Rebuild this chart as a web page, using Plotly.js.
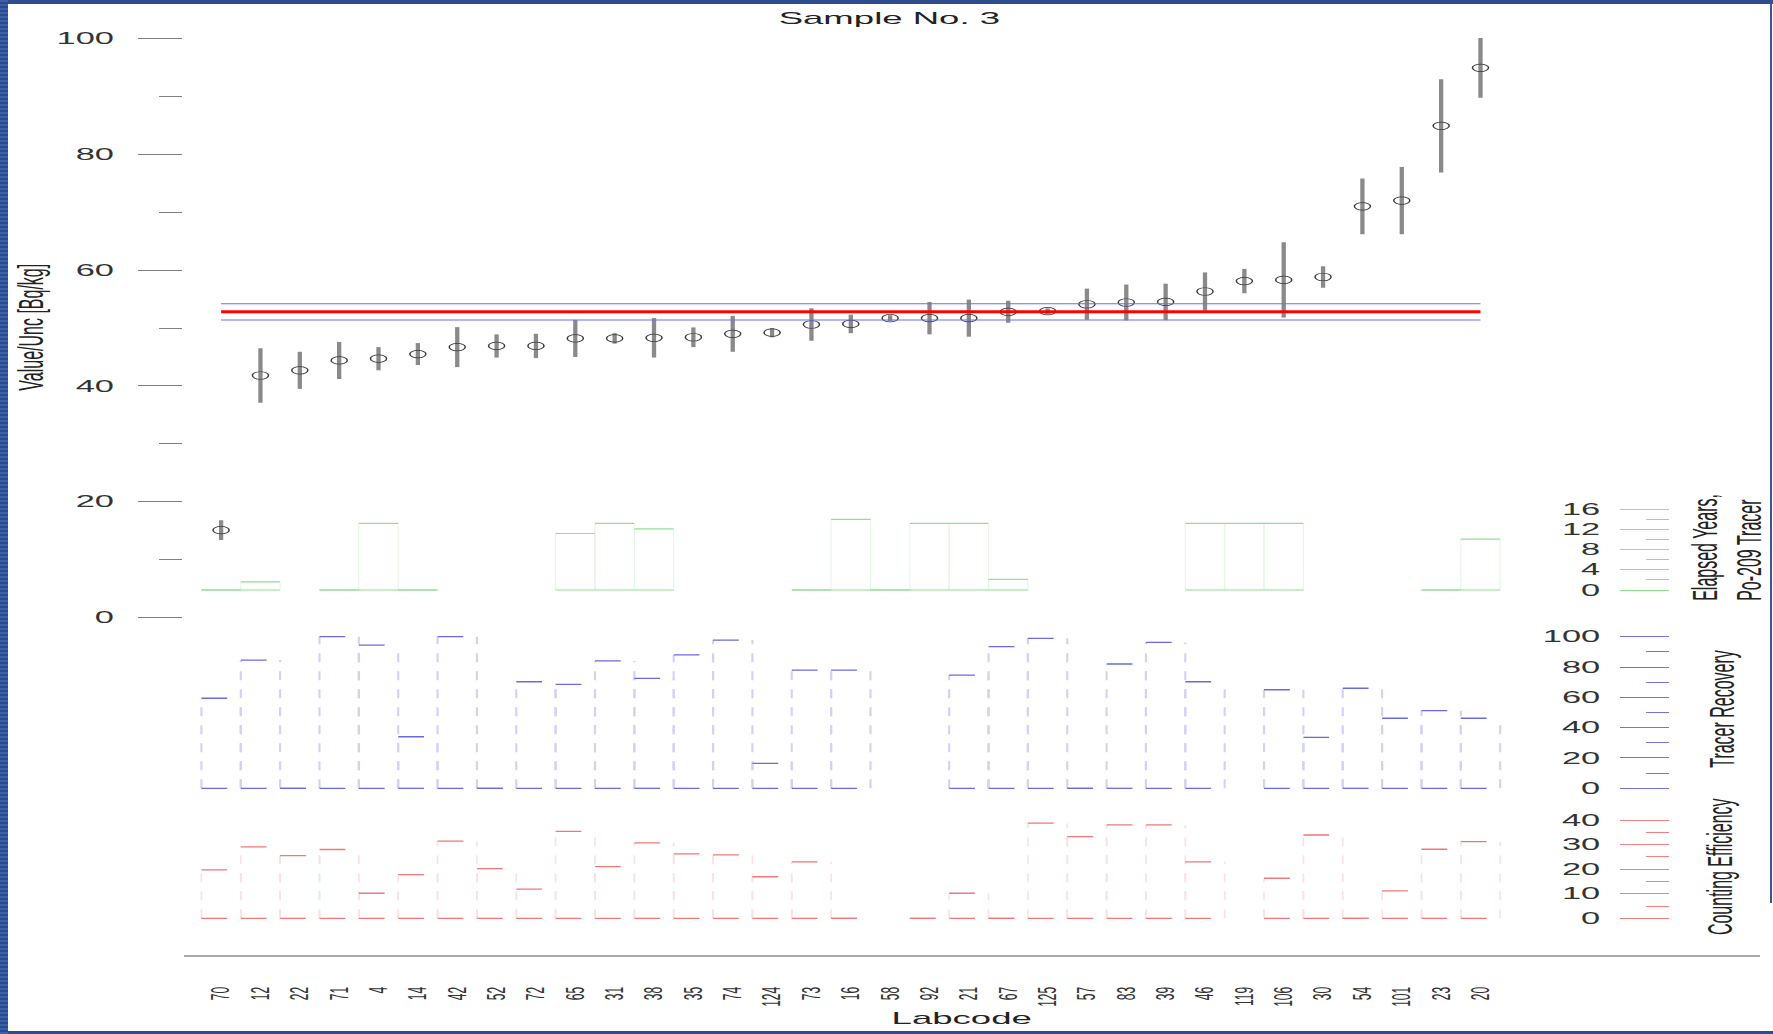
<!DOCTYPE html>
<html>
<head>
<meta charset="utf-8">
<script src="https://cdn.plot.ly/plotly-3.0.1.min.js"></script>
<style>
  html, body { margin: 0; padding: 0; width: 1773px; height: 1034px; overflow: hidden; background: #2f4d8e; }
  #rail { position: absolute; left: 0; top: 0; width: 8px; height: 1034px;
          background: repeating-linear-gradient(to bottom, #3d60a8 0 2px, #2b4a8c 2px 4px); }
  #sheet { position: absolute; left: 8px; top: 4px; width: 1765px; height: 1027px; background: #fff; }
  #edge { position: absolute; left: 1770px; top: 0; width: 2px; height: 903px; background: #3a5590; }
  #chart { position: absolute; left: 8px; top: 4px; width: 821px; height: 1027px;
           transform: scaleX(2.1498); transform-origin: 0 0; }
</style>
</head>
<body>
<div id="rail"></div>
<div id="sheet"></div>
<div id="edge"></div>
<div id="chart"></div>
<script>
// Laboratory results for sample no. 3, sorted by reported value
const labcodes = ['70','12','22','71','4','14','42','52','72','65','31','38','35','74','124','73','16',
                  '58','92','21','67','125','57','83','39','46','119','106','30','54','101','23','20'];
const values = [15.1, 41.8, 42.7, 44.4, 44.7, 45.5, 46.7, 46.9, 46.9, 48.2, 48.2, 48.3, 48.4, 49.0, 49.2, 50.6, 50.7,
                51.7, 51.7, 51.7, 52.8, 52.9, 54.1, 54.4, 54.5, 56.3, 58.1, 58.3, 58.8, 71.0, 72.0, 84.9, 94.9];
const uncertainties = [1.7, 4.7, 3.2, 3.2, 2.0, 1.9, 3.45, 2.0, 2.1, 3.2, 0.9, 3.4, 1.7, 3.1, 0.8, 2.8, 1.6,
                       0.5, 2.8, 3.2, 1.9, 0.5, 2.7, 3.1, 3.15, 3.3, 2.1, 6.5, 1.85, 4.8, 5.8, 8.05, 5.15];
// Reference value and its uncertainty
const refValue = 52.8;
const refUnc = 1.4;

// Auxiliary information per lab (null = not reported)
const elapsedYears = [0, 1.6, null, 0, 13.2, 0, null, null, null, 11.2, 13.2, 12.1, null, null, null, 0, 14.0,
                      0, 13.2, 13.2, 2.1, null, null, null, null, 13.2, 13.2, 13.2, null, null, null, 0, 10.1];
const tracerRecovery = [59.4, 84.6, 0, 100, 94.5, 34, 100, 0, 70.3, 68.6, 84, 72.5, 88, 97.8, 16.5, 78, 78,
                        null, null, 74.7, 93.4, 98.9, 0, 82, 96.3, 70.3, null, 65, 33.6, 66, 46.2, 51.2, 46.2];
const countingEfficiency = [19.7, 29.1, 25.5, 28.0, 10.2, 17.8, 31.4, 20.2, 11.9, 35.4, 21.0, 30.7, 26.2, 25.8, 16.9, 23.0, 0,
                            null, 0, 10.2, 0, 38.7, 33.2, 38, 38, 23, null, 16.3, 33.9, 0, 11.2, 28.1, 31.2];

// ---- geometry -------------------------------------------------------------
const W = 821, H = 1027;
const STRETCH = 1765 / W;              // the drawing is widened horizontally by CSS
const M = { l: 82, r: 6, t: 26, b: 75 };
const plotW = W - M.l - M.r;
const plotH = H - M.t - M.b;
const PLOT_BOTTOM = 4 + M.t + plotH;   // page px of the x axis line

const paperX = px => ((px - 8) / STRETCH - M.l) / plotW;
const paperY = py => (PLOT_BOTTOM - py) / plotH;

// axis whose value vA sits at page px pA and vB at pB, spanning topPx..botPx
function yAxisFrom(vA, pA, vB, pB, topPx, botPx) {
  const perPx = (vB - vA) / (pA - pB);
  return {
    domain: [paperY(botPx), paperY(topPx)],
    range: [vA - (botPx - pA) * perPx, vA + (pA - topPx) * perPx]
  };
}

const idx = labcodes.map((_, i) => i + 1);
const xFirst = (221.1 - 8) / STRETCH - M.l;
const xLast = (1480.5 - 8) / STRETCH - M.l;
const unitsPerPx = (labcodes.length - 1) / (xLast - xFirst);
const xRange = [1 - xFirst * unitsPerPx, 1 + (plotW - xFirst) * unitsPerPx];

const mainAx = yAxisFrom(0, 617.7, 100, 38.3, 30, 640);
const yearsAx = yAxisFrom(0, 590, 16, 509.3, 500, 600);
const tracerAx = yAxisFrom(0, 788.3, 100, 636.7, 625, 800);
const effAx = yAxisFrom(0, 918.3, 40, 820, 810, 930);
const sideAxisPos = paperX(1669);

const FONT = 'Liberation Sans, Arial, Helvetica, sans-serif';

// ---- outline boxes per lab for the auxiliary panels ------------------------
function boxTraces(vals, yaxis, topColor, sideColor, topWidth, sideWidth, topDash, sideDash) {
  const hx = [], hy = [], vx = [], vy = [];
  vals.forEach((v, i) => {
    if (v === null) return;
    const x = i + 1;
    hx.push(x - 0.5, x + 0.5, null);
    hy.push(v, v, null);
    hx.push(x - 0.5, x + 0.5, null);
    hy.push(0, 0, null);
    if (v > 0) {
      vx.push(x - 0.5, x - 0.5, null, x + 0.5, x + 0.5, null);
      vy.push(0, v, null, 0, v, null);
    }
  });
  return [
    { type: 'scatter', mode: 'lines', x: vx, y: vy, xaxis: 'x', yaxis: yaxis, connectgaps: false,
      line: { color: sideColor, width: sideWidth, dash: sideDash }, hoverinfo: 'skip' },
    { type: 'scatter', mode: 'lines', x: hx, y: hy, xaxis: 'x', yaxis: yaxis, connectgaps: false,
      line: { color: topColor, width: topWidth, dash: topDash }, hoverinfo: 'skip' }
  ];
}

const traces = [
  ...boxTraces(elapsedYears, 'y2', '#8fe08f', '#e2f7e2', 1.2, 0.5, 'solid', 'solid'),
  ...boxTraces(tracerRecovery, 'y3', '#6a6ae0', '#d2d2f7', 1.3, 1.0, '12px,6.3px', '9px,9px'),
  ...boxTraces(countingEfficiency, 'y4', '#f07878', '#fbe2e2', 1.3, 0.8, '12px,6.3px', '9px,9px'),
  {
    type: 'scatter', mode: 'markers', x: idx, y: values, xaxis: 'x', yaxis: 'y',
    error_y: { type: 'data', array: uncertainties, symmetric: true, color: '#8a8a8a', thickness: 2, width: 0 },
    marker: { symbol: 'circle-open', size: 7.5, color: '#3a3a3a', line: { width: 0.7 } },
    cliponaxis: false
  },
  { type: 'scatter', mode: 'lines', x: [1, labcodes.length], y: [refValue + refUnc, refValue + refUnc],
    xaxis: 'x', yaxis: 'y', line: { color: '#6b6bff', width: 1 } },
  { type: 'scatter', mode: 'lines', x: [1, labcodes.length], y: [refValue - refUnc, refValue - refUnc],
    xaxis: 'x', yaxis: 'y', line: { color: '#6b6bff', width: 1 } },
  { type: 'scatter', mode: 'lines', x: [1, labcodes.length], y: [refValue, refValue],
    xaxis: 'x', yaxis: 'y', line: { color: '#ff0000', width: 3 } }
];

function sideAxis(ax, majors, minors, color) {
  return {
    domain: ax.domain, range: ax.range, anchor: 'free', position: sideAxisPos, side: 'left',
    tickmode: 'array', tickvals: majors, ticks: 'outside', ticklen: 22.8, tickwidth: 1, tickcolor: color,
    minor: { tickmode: 'array', tickvals: minors, ticks: 'outside', ticklen: 10.6, tickwidth: 1, tickcolor: color, showgrid: false },
    ticklabelstandoff: 6,
    tickfont: { family: FONT, size: 16, color: '#333' },
    showline: false, showgrid: false, zeroline: false, fixedrange: true
  };
}

const rotated = (text, x, y, yanchor, align) => ({
  text: text, xref: 'paper', yref: 'paper', x: x, y: y, xanchor: 'center', yanchor: yanchor,
  align: align || 'center', textangle: -90, showarrow: false,
  font: { family: FONT, size: 16, color: '#222' }
});

const layout = {
  width: W, height: H,
  margin: M,
  paper_bgcolor: 'rgba(0,0,0,0)', plot_bgcolor: 'rgba(0,0,0,0)',
  showlegend: false,
  title: {
    text: 'Sample No. 3', xref: 'container', yref: 'container',
    x: ((889.4 - 8) / STRETCH) / W, y: 1 - (18.5 - 4) / H, xanchor: 'center', yanchor: 'middle',
    font: { family: FONT, size: 17, color: '#222' }
  },
  xaxis: {
    range: xRange, anchor: 'free', position: 0,
    tickmode: 'array', tickvals: idx, ticktext: labcodes, tickangle: -90, ticks: '',
    ticklabelstandoff: 25,
    tickfont: { family: FONT, size: 12, color: '#333' },
    showline: true, linecolor: '#a8a8a8', linewidth: 2,
    showgrid: false, zeroline: false, fixedrange: true
  },
  yaxis: {
    domain: mainAx.domain, range: mainAx.range, anchor: 'x',
    tickmode: 'array', tickvals: [0, 20, 40, 60, 80, 100], ticks: 'outside', ticklen: 20.5, tickwidth: 1, tickcolor: '#808080',
    minor: { tickmode: 'array', tickvals: [10, 30, 50, 70, 90], ticks: 'outside', ticklen: 10.7, tickwidth: 1, tickcolor: '#808080', showgrid: false },
    ticklabelstandoff: 8,
    tickfont: { family: FONT, size: 16, color: '#333' },
    showline: false, showgrid: false, zeroline: false, fixedrange: true
  },
  yaxis2: sideAxis(yearsAx, [0, 4, 8, 12, 16], [2, 6, 10, 14], '#90e090'),
  yaxis3: sideAxis(tracerAx, [0, 20, 40, 60, 80, 100], [10, 30, 50, 70, 90], '#7474e0'),
  yaxis4: sideAxis(effAx, [0, 10, 20, 30, 40], [5, 15, 25, 35], '#f08080'),
  annotations: [
    rotated('Value/Unc [Bq/kg]', paperX(31.6), paperY(326.7), 'middle'),
    rotated('Elapsed Years,<br>Po-209 Tracer', paperX(1728.5), paperY(603), 'bottom', 'left'),
    rotated('Tracer Recovery', paperX(1721), paperY(709), 'middle'),
    rotated('Counting Efficiency', paperX(1719.5), paperY(867), 'middle'),
    {
      text: 'Labcode', xref: 'paper', yref: 'paper', x: paperX(962.5), y: paperY(1019),
      xanchor: 'center', yanchor: 'middle', showarrow: false, borderpad: 0,
      font: { family: FONT, size: 17, color: '#222' }
    }
  ]
};

Plotly.newPlot('chart', traces, layout, { displayModeBar: false, staticPlot: true });
</script>
</body>
</html>
